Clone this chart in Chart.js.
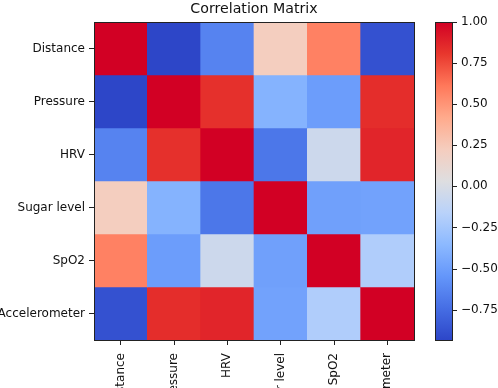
<!DOCTYPE html>
<html>
<head>
<meta charset="utf-8">
<script src="https://cdn.jsdelivr.net/npm/chart.js@4/dist/chart.umd.min.js"></script>
<style>
  html, body { margin: 0; padding: 0; background: #fff; overflow: hidden; }
  canvas { display: block; }
</style>
</head>
<body>
<canvas id="corr" width="498" height="388"></canvas>
<script>
/* --- data --- */
const VARS = ["Distance", "Pressure", "HRV", "Sugar level", "SpO2", "Accelerometer"];

const ROW_DISTANCE = [1.00, -0.935, -0.64, 0.22, 0.58, -0.88];
const ROW_PRESSURE = [-0.935, 1.00, 0.83, -0.39, -0.51, 0.84];
const ROW_HRV      = [-0.64, 0.83, 1.00, -0.70, -0.06, 0.87];
const ROW_SUGAR    = [0.22, -0.39, -0.70, 1.00, -0.49, -0.48];
const ROW_SPO2     = [0.58, -0.51, -0.06, -0.49, 1.00, -0.20];
const ROW_ACCEL    = [-0.88, 0.84, 0.87, -0.48, -0.20, 1.00];
const MATRIX = [ROW_DISTANCE, ROW_PRESSURE, ROW_HRV, ROW_SUGAR, ROW_SPO2, ROW_ACCEL];

const CB_TICKS = [1.00, 0.75, 0.50, 0.25, 0.00, -0.25, -0.50, -0.75];

/* --- coolwarm-like colour map --- */
const CMAP = [
    [0.0, [45, 70, 200]],
    [0.1, [70, 110, 228]],
    [0.2, [100, 150, 250]],
    [0.3, [140, 185, 255]],
    [0.4, [185, 210, 250]],
    [0.5, [222, 222, 224]],
    [0.6, [245, 205, 190]],
    [0.7, [255, 170, 140]],
    [0.8, [255, 120, 90]],
    [0.9, [232, 55, 45]],
    [1.0, [210, 0, 36]]
];

const VMIN = Math.min(...MATRIX.flat());
const VMAX = 1;

function cmapColor(t) {
    t = Math.max(0, Math.min(1, t));
    for (let i = 1; i < CMAP.length; i++) {
        if (t <= CMAP[i][0]) {
            const [t0, c0] = CMAP[i - 1];
            const [t1, c1] = CMAP[i];
            const f = (t - t0) / (t1 - t0);
            const c = c0.map((v, k) => Math.round(v + (c1[k] - v) * f));
            return `rgb(${c[0]},${c[1]},${c[2]})`;
        }
    }
    return "rgb(210,0,36)";
}

function valueColor(v) {
    return cmapColor((v - VMIN) / (VMAX - VMIN));
}

/* --- one floating-bar dataset per row --- */
const datasets = MATRIX.map((row, r) => ({
    label: VARS[r],
    data: row.map(() => [r, r + 1]),
    backgroundColor: row.map(valueColor),
    borderWidth: 0,
    barPercentage: 1,
    categoryPercentage: 1,
    grouped: false
}));

const FONT = "'DejaVu Sans', sans-serif";
const TEXT = "#111";
const AXIS = "#222";

/* --- frame + colourbar --- */
const heatmapExtras = {
    id: "heatmapExtras",
    afterDraw(chart) {
        const ctx = chart.ctx;
        const a = chart.chartArea;
        const cb = chart.scales.cb;

        ctx.save();
        ctx.strokeStyle = AXIS;
        ctx.lineWidth = 1;
        ctx.strokeRect(Math.round(a.left) + 0.5, Math.round(a.top) + 0.5,
            Math.round(a.right - a.left), Math.round(a.bottom - a.top));

        const x0 = cb.left + 21;
        const w = 17;
        const yTop = cb.getPixelForValue(VMAX);
        const yBot = cb.getPixelForValue(VMIN);
        const grad = ctx.createLinearGradient(0, yBot, 0, yTop);
        CMAP.forEach(([t]) => grad.addColorStop(t, cmapColor(t)));
        ctx.fillStyle = grad;
        ctx.fillRect(x0, yTop, w, yBot - yTop);
        ctx.strokeRect(Math.round(x0) + 0.5, Math.round(yTop) + 0.5, w, Math.round(yBot - yTop));

        ctx.beginPath();
        CB_TICKS.forEach(v => {
            const y = Math.round(cb.getPixelForValue(v)) + 0.5;
            ctx.moveTo(x0 + w, y);
            ctx.lineTo(x0 + w + 5, y);
        });
        ctx.stroke();
        ctx.restore();
    }
};

const fmtCb = v => (v < 0 ? "\u2212" : "") + Math.abs(v).toFixed(2);

new Chart(document.getElementById("corr"), {
    type: "bar",
    data: { labels: VARS, datasets: datasets },
    options: {
        responsive: false,
        animation: false,
        devicePixelRatio: 1,
        layout: { padding: 0 },
        plugins: {
            legend: { display: false },
            tooltip: { enabled: false },
            title: {
                display: true,
                text: "Correlation Matrix",
                fullSize: false,
                color: TEXT,
                font: { family: FONT, size: 14.2, weight: "normal", lineHeight: 1.2 },
                padding: { top: 1, bottom: 4 }
            }
        },
        scales: {
            x: {
                type: "category",
                offset: true,
                afterFit: s => { s.height = 48; },
                grid: { offset: false, drawOnChartArea: false, drawTicks: true, tickLength: 5, color: AXIS },
                border: { display: true, color: AXIS },
                ticks: {
                    autoSkip: false,
                    minRotation: 90,
                    maxRotation: 90,
                    padding: 8,
                    color: TEXT,
                    font: { family: FONT, size: 12 }
                }
            },
            y: {
                type: "linear",
                min: 0,
                max: VARS.length,
                reverse: true,
                afterFit: s => { s.width = 94; },
                afterBuildTicks: s => { s.ticks = VARS.map((_, i) => ({ value: i + 0.5 })); },
                grid: { drawOnChartArea: false, drawTicks: true, tickLength: 5, color: AXIS },
                border: { display: true, color: AXIS },
                ticks: {
                    padding: 4,
                    color: TEXT,
                    font: { family: FONT, size: 12 },
                    callback: v => VARS[Math.floor(v)]
                }
            },
            cb: {
                type: "linear",
                position: "right",
                min: VMIN,
                max: VMAX,
                afterFit: s => { s.width = 84; },
                afterBuildTicks: s => { s.ticks = CB_TICKS.map(v => ({ value: v })); },
                grid: { display: true, drawOnChartArea: false, drawTicks: true, tickLength: 44, color: "rgba(0,0,0,0)" },
                border: { display: false },
                ticks: {
                    padding: 3,
                    color: TEXT,
                    font: { family: FONT, size: 12 },
                    callback: v => fmtCb(v)
                }
            }
        }
    },
    plugins: [heatmapExtras]
});
</script>
</body>
</html>
